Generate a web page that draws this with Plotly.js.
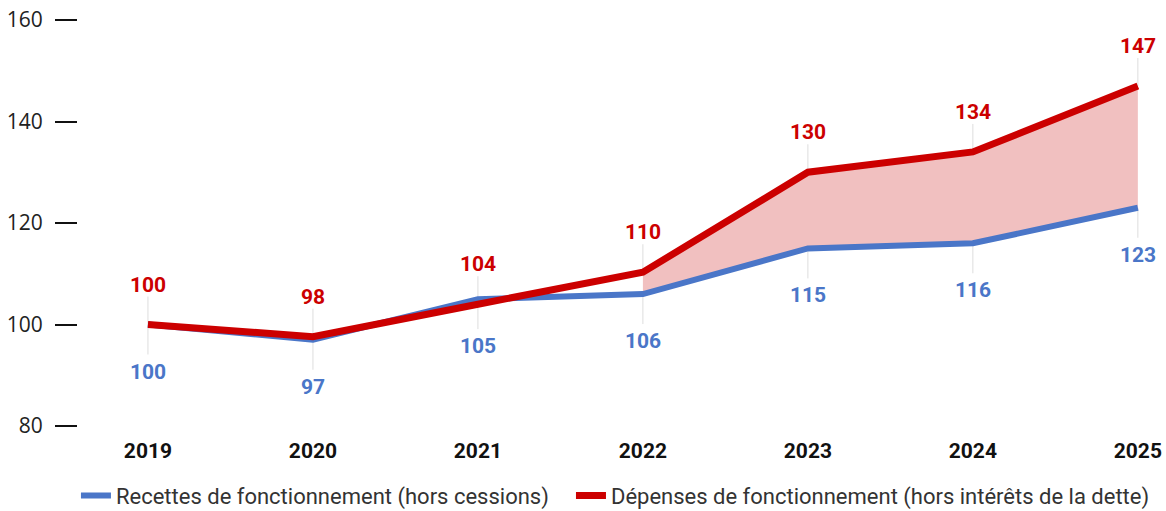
<!DOCTYPE html>
<html><head><meta charset="utf-8">
<script src="https://cdn.plot.ly/plotly-3.0.1.min.js"></script>
<style>html,body{margin:0;padding:0;background:#fff}#chart{width:1166px;height:511px}</style>
</head><body><div id="chart"></div>
<script>
const years = ['2019','2020','2021','2022','2023','2024','2025'];
const recettes = [100, 97, 105, 106, 115, 116, 123];
const depenses = [100, 97.6, 104, 110.3, 130, 134, 147];
const recettesName = 'Recettes de fonctionnement (hors cessions)';
const depensesName = 'Dépenses de fonctionnement (hors intérêts de la dette)';
const fillFrom = 3; // gap shaded from 2022

const blue = '#4a76c8', red = '#cc0000';
const traces = [
  {x: years.slice(fillFrom), y: recettes.slice(fillFrom), mode:'lines', line:{width:0, color:blue}, showlegend:false, hoverinfo:'skip'},
  {x: years.slice(fillFrom), y: depenses.slice(fillFrom), mode:'lines', line:{width:0, color:red}, fill:'tonexty', fillcolor:'rgba(230,140,140,0.55)', showlegend:false, hoverinfo:'skip'},
  {x: years, y: recettes, name: recettesName, mode:'lines', line:{width:6, color:blue}, legend:'legend'},
  {x: years, y: depenses, name: depensesName, mode:'lines', line:{width:7, color:red}, legend:'legend2'}
];
const annotations = [], shapes = [];
years.forEach((yr,i)=>{
  annotations.push({xref:'x', yref:'y', x:i, y:depenses[i], text:String(Math.round(depenses[i])), showarrow:false, yshift:40, font:{family:'Roboto', size:21, color:red, weight:'bold'}});
  annotations.push({xref:'x', yref:'y', x:i, y:recettes[i], text:String(Math.round(recettes[i])), showarrow:false, yshift:-47, font:{family:'Roboto', size:21, color:blue, weight:'bold'}});
  shapes.push({type:'line', layer:'below', xref:'x', yref:'y', x0:i, x1:i, ysizemode:'pixel', yanchor:depenses[i], y0:0, y1:28, line:{color:'#dddddd', width:1}});
  shapes.push({type:'line', layer:'below', xref:'x', yref:'y', x0:i, x1:i, ysizemode:'pixel', yanchor:recettes[i], y0:0, y1:-30, line:{color:'#dddddd', width:1}});
});
const legendBase = {orientation:'h', traceorder:'normal', xanchor:'left', y:-0.12, yanchor:'top',
  font:{family:'Roboto', size:22, color:'#333'}, itemwidth:30};
const layout = {
  width:1166, height:511,
  margin:{l:78, r:10, t:20, b:85, autoexpand:false},
  paper_bgcolor:'#fff', plot_bgcolor:'#fff',
  font:{family:'Roboto', color:'#222'},
  xaxis:{type:'category', categoryorder:'array', categoryarray:years, range:[-0.424, 6.11], showgrid:false, zeroline:false, showline:false, ticks:'',
    ticklabelstandoff:10, tickfont:{family:'Roboto', size:21, color:'#111', weight:'bold'}, fixedrange:true},
  yaxis:{range:[80,160], tickvals:[80,100,120,140,160], showgrid:false, zeroline:false, showline:false,
    ticks:'outside', ticklen:22, tickwidth:2, tickcolor:'#111', ticklabelstandoff:8,
    tickfont:{family:'Open Sans', size:21, color:'#222'}},
  showlegend:true,
  legend:Object.assign({}, legendBase, {x:-0.0019}),
  legend2:Object.assign({}, legendBase, {x:0.4573}),
  annotations, shapes
};
Plotly.newPlot('chart', traces, layout, {displayModeBar:false, staticPlot:true});
</script></body></html>
